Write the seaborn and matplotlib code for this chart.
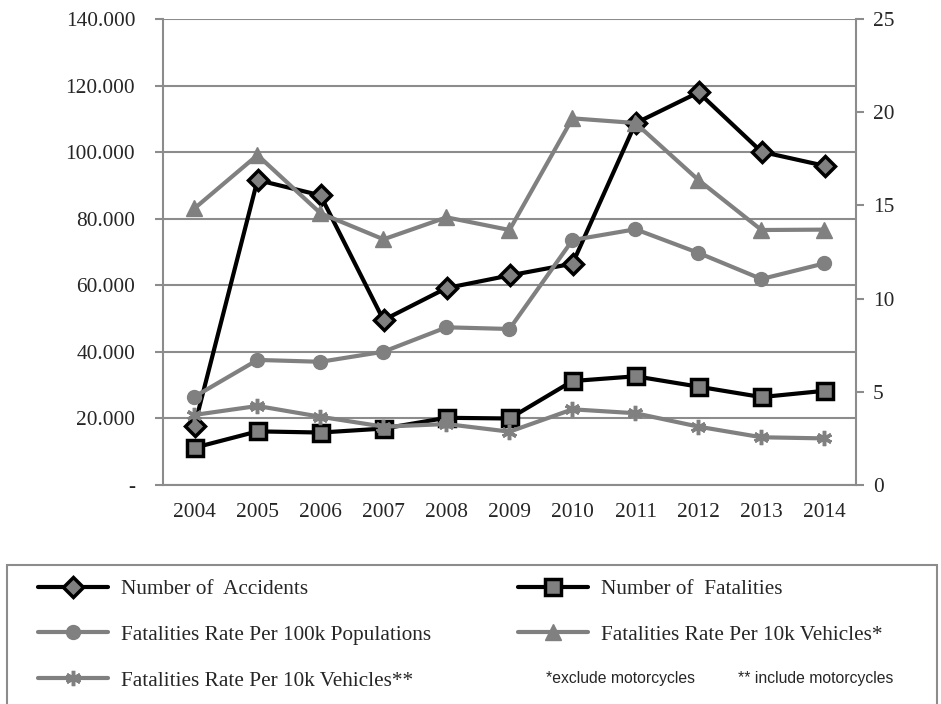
import matplotlib
matplotlib.use("Agg")
import matplotlib.pyplot as plt
import matplotlib.ticker as mticker
from matplotlib.patches import Rectangle
import seaborn as sns

# data
years = [2004, 2005, 2006, 2007, 2008, 2009, 2010, 2011, 2012, 2013, 2014]
accidents = [17732, 91623, 87020, 49553, 59164, 62960, 66488, 108696, 117949, 100106, 95906]
fatalities = [11204, 16115, 15762, 16955, 20188, 19979, 31234, 32657, 29544, 26416, 28297]
rate_pop = [4.74, 6.71, 6.61, 7.15, 8.46, 8.37, 13.14, 13.72, 12.45, 11.05, 11.89]
rate_veh_excl = [14.84, 17.70, 14.58, 13.18, 14.36, 13.68, 19.67, 19.42, 16.36, 13.68, 13.70]
rate_veh_incl = [3.76, 4.24, 3.66, 3.13, 3.27, 2.86, 4.06, 3.85, 3.13, 2.56, 2.50]

left_ticks = [0, 20000, 40000, 60000, 80000, 100000, 120000, 140000]
right_ticks = [0, 5, 10, 15, 20, 25]

sns.set_style("white")
plt.rcParams['font.family'] = ['Liberation Serif', 'DejaVu Serif']

GREY = '#808080'
AXGREY = '#8c8c8c'
TICK_FS = 15.4

fig = plt.figure(figsize=(9.41, 7.04), dpi=100)
ax = fig.add_axes([163 / 941, 1 - 485 / 704, (856 - 163) / 941, (485 - 19) / 704])
ax2 = ax.twinx()

# left axis: counts
sns.lineplot(x=years, y=accidents, ax=ax, color='black', lw=3, marker='D', markersize=10.5,
             markerfacecolor=GREY, markeredgecolor='black', markeredgewidth=2.5,
             label='Number of  Accidents', legend=False)
sns.lineplot(x=years, y=fatalities, ax=ax, color='black', lw=3, marker='s', markersize=11,
             markerfacecolor=GREY, markeredgecolor='black', markeredgewidth=2.5,
             label='Number of  Fatalities', legend=False)

# right axis: rates
sns.lineplot(x=years, y=rate_pop, ax=ax2, color=GREY, lw=3, marker='o', markersize=10,
             markerfacecolor=GREY, markeredgecolor=GREY, markeredgewidth=1,
             label='Fatalities Rate Per 100k Populations', legend=False)
sns.lineplot(x=years, y=rate_veh_excl, ax=ax2, color=GREY, lw=3, marker='^', markersize=11,
             markerfacecolor=GREY, markeredgecolor=GREY, markeredgewidth=1,
             label='Fatalities Rate Per 10k Vehicles*', legend=False)
sns.lineplot(x=years, y=rate_veh_incl, ax=ax2, color=GREY, lw=3, marker=(6, 2, 0), markersize=11,
             markerfacecolor=GREY, markeredgecolor=GREY, markeredgewidth=2.5,
             label='Fatalities Rate Per 10k Vehicles**', legend=False)

# axes styling
ax.set_xlim(2003.5, 2014.5)
ax.set_ylim(0, 140000)
ax2.set_ylim(0, 25)
ax.set_yticks(left_ticks)
ax2.set_yticks(right_ticks)
ax.yaxis.set_major_formatter(mticker.FuncFormatter(
    lambda v, p: '-' if v == 0 else f"{v:,.0f}".replace(',', '.')))
ax2.yaxis.set_major_formatter(mticker.FuncFormatter(lambda v, p: f"{v:.0f}"))

ax.set_xticks([y - 0.5 for y in years] + [years[-1] + 0.5])
ax.set_xticklabels([])
ax.set_xticks(years, minor=True)
ax.set_xticklabels([str(y) for y in years], minor=True)
ax.tick_params(axis='x', which='major', length=6, width=1.5, color=AXGREY, direction='out')
ax.tick_params(axis='x', which='minor', length=0, pad=13, labelsize=TICK_FS)
ax.tick_params(axis='y', length=6, width=1.5, color=AXGREY, direction='out', pad=14, labelsize=TICK_FS)
ax2.tick_params(axis='y', length=6, width=1.5, color=AXGREY, direction='out', pad=6, labelsize=TICK_FS)

ax.grid(axis='y', color=AXGREY, lw=1.5)
ax.grid(axis='x', visible=False)
ax2.grid(False)
for a in (ax, ax2):
    for side in ('left', 'right', 'bottom'):
        a.spines[side].set_color(AXGREY)
        a.spines[side].set_linewidth(1.5)
    a.spines['top'].set_visible(False)
    a.set_xlabel('')
    a.set_ylabel('')
ax.spines['right'].set_visible(False)
ax2.spines['left'].set_visible(False)
ax2.spines['bottom'].set_visible(False)

# legend below the chart
h1, l1 = ax.get_legend_handles_labels()
h2, l2 = ax2.get_legend_handles_labels()
handles = [h1[0], h2[0], h2[2], h1[1], h2[1]]
labels = [l1[0], l2[0], l2[2], l1[1], l2[1]]
fig.legend(handles, labels, loc='upper left', bbox_to_anchor=(19 / 941, 1 - 560 / 704),
           ncol=2, frameon=False, fontsize=15.3, handlelength=3.3, handletextpad=0.6,
           labelspacing=1.22, columnspacing=4.1)

fig.patches.append(Rectangle((7 / 941, -0.01), 930 / 941, (704 - 565) / 704 + 0.01,
                             transform=fig.transFigure, fill=False, edgecolor=AXGREY, lw=1.5))

fig.text(546 / 941, 1 - 678 / 704, '*exclude motorcycles', family='Liberation Sans',
         fontsize=11.3, va='center', ha='left')
fig.text(738 / 941, 1 - 678 / 704, '** include motorcycles', family='Liberation Sans',
         fontsize=11.3, va='center', ha='left')

plt.savefig('out.png', dpi=100)
